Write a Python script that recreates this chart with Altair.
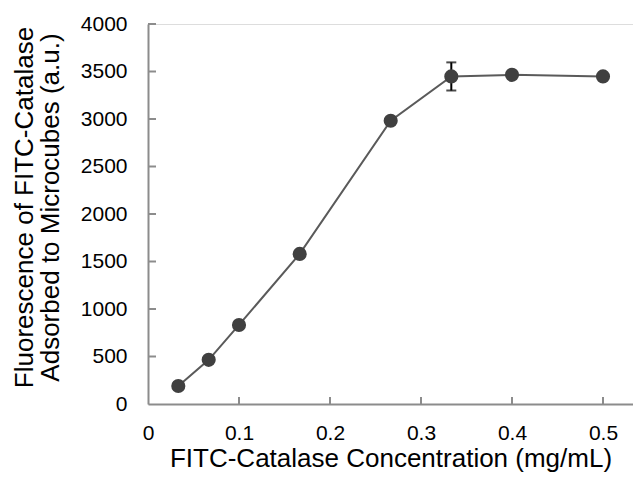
import altair as alt
import pandas as pd

conc = [0.0333, 0.0667, 0.1, 0.1667, 0.2667, 0.3333, 0.4, 0.5]
fluor = [190, 465, 832, 1580, 2982, 3448, 3465, 3448]
err = [0, 0, 0, 0, 0, 148, 0, 0]

x_ticks = [0, 0.1, 0.2, 0.3, 0.4, 0.5]
y_ticks = [0, 500, 1000, 1500, 2000, 2500, 3000, 3500, 4000]

df = pd.DataFrame({"x": conc, "y": fluor, "e": err})
df["lo"] = df["y"] - df["e"]
df["hi"] = df["y"] + df["e"]
dfe = df[df["e"] > 0]

W, H = 485, 380
XMAX = W / 910.0
FONT = "Liberation Sans"
AX = "#8c8c8c"

xs = alt.Scale(domain=[0, XMAX], nice=False, zero=True)
ys = alt.Scale(domain=[0, 4000], nice=False)

xaxis = alt.Axis(values=x_ticks, ticks=False, grid=False, domainColor=AX, domainWidth=2,
                 labelFont=FONT, labelFontSize=21, labelColor="black", labelPadding=18,
                 labelFlush=False, labelOverlap=False,
                 title="FITC-Catalase Concentration (mg/mL)", titleFont=FONT, titleFontSize=26,
                 titleFontWeight="normal", titleColor="black", titlePadding=2,
                 format="~g")
yaxis = alt.Axis(values=y_ticks, ticks=False, grid=False, domainColor=AX, domainWidth=2,
                 labelFont=FONT, labelFontSize=21, labelColor="black", labelPadding=21,
                 labelFlush=False, labelOverlap=False, format="d",
                 title=["Fluorescence of FITC-Catalase", "Adsorbed to Microcubes (a.u.)"],
                 titleFont=FONT, titleFontSize=26, titleFontWeight="normal", titleColor="black",
                 titleLineHeight=26, titleX=-111, titleY=183, titleAngle=270, titleBaseline="bottom",
                 titleAlign="center")

base = alt.Chart(df)

line = base.mark_line(color="#5a5a5a", strokeWidth=2).encode(
    x=alt.X("x:Q", scale=xs, axis=xaxis),
    y=alt.Y("y:Q", scale=ys, axis=yaxis),
)

ebar = alt.Chart(dfe).mark_rule(color="black", strokeWidth=2).encode(
    x=alt.X("x:Q", scale=xs), y=alt.Y("lo:Q", scale=ys), y2="hi:Q"
)
cap_hi = alt.Chart(dfe).mark_tick(color="black", thickness=2, size=10, orient="horizontal").encode(
    x=alt.X("x:Q", scale=xs), y=alt.Y("hi:Q", scale=ys)
)
cap_lo = alt.Chart(dfe).mark_tick(color="black", thickness=2, size=10, orient="horizontal").encode(
    x=alt.X("x:Q", scale=xs), y=alt.Y("lo:Q", scale=ys)
)

pts = base.mark_circle(color="#404040", opacity=1, size=200).encode(
    x=alt.X("x:Q", scale=xs), y=alt.Y("y:Q", scale=ys)
)

xt = alt.Chart(pd.DataFrame({"t": x_ticks[1:]})).mark_rule(color=AX, strokeWidth=2).encode(
    x=alt.X("t:Q", scale=xs), y=alt.value(H - 7), y2=alt.value(H)
)
yt = alt.Chart(pd.DataFrame({"t": y_ticks[1:]})).mark_rule(color=AX, strokeWidth=2).encode(
    y=alt.Y("t:Q", scale=ys), x=alt.value(0), x2=alt.value(8)
)

chart = alt.layer(xt, yt, line, ebar, cap_hi, cap_lo, pts).properties(
    width=W, height=H,
    autosize=alt.AutoSizeParams(type="none"),
    padding={"left": 140, "top": 16, "right": 0, "bottom": 70},
).configure_view(stroke=None).configure(background="white")

chart.save("out.html", embed_options={"renderer": "svg", "actions": False})
